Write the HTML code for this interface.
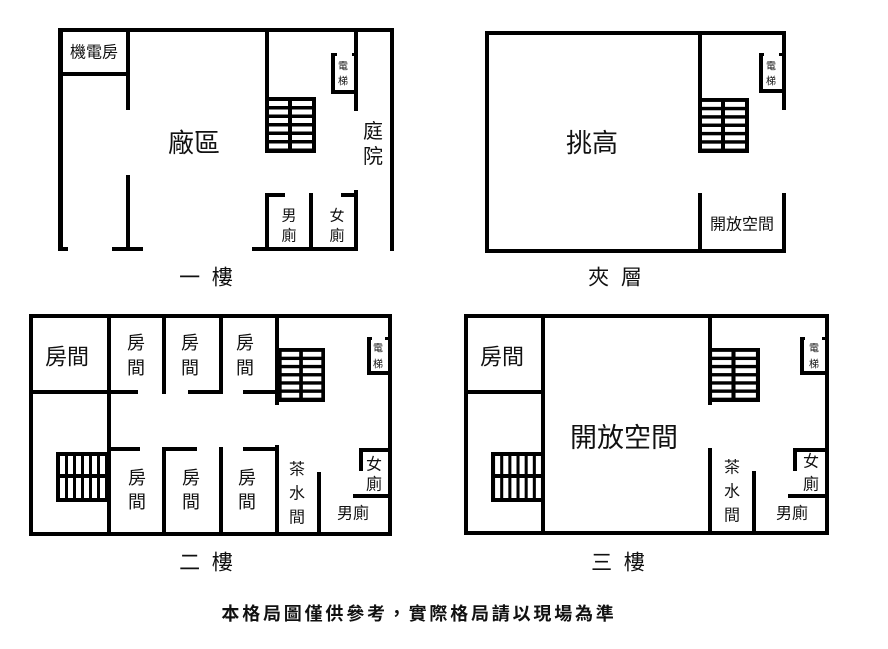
<!DOCTYPE html>
<html><head><meta charset="utf-8"><style>
html,body{margin:0;padding:0;background:#fff;width:888px;height:649px;overflow:hidden}
svg{display:block}
text{font-family:"Liberation Sans","Noto Sans CJK TC",sans-serif;fill:#111;text-anchor:middle;dominant-baseline:central}
</style></head><body>
<svg width="888" height="649" viewBox="0 0 888 649" xmlns="http://www.w3.org/2000/svg">
<defs>
<symbol id="sh" viewBox="0 0 51 56" preserveAspectRatio="none">
<rect x="0" y="0" width="51" height="56" fill="#000"/>
<g fill="#fff">
<rect x="4" y="4" width="19" height="5"/><rect x="27" y="4" width="20" height="5"/>
<rect x="4" y="12.5" width="19" height="5"/><rect x="27" y="12.5" width="20" height="5"/>
<rect x="4" y="21" width="19" height="5"/><rect x="27" y="21" width="20" height="5"/>
<rect x="4" y="29.5" width="19" height="5"/><rect x="27" y="29.5" width="20" height="5"/>
<rect x="4" y="38" width="19" height="5"/><rect x="27" y="38" width="20" height="5"/>
<rect x="4" y="46.5" width="19" height="5"/><rect x="27" y="46.5" width="20" height="5"/>
</g></symbol>
<symbol id="sv" viewBox="0 0 51 50" preserveAspectRatio="none">
<rect x="0" y="0" width="51" height="50" fill="#000"/>
<g fill="#fff">
<rect x="4" y="4" width="5" height="18"/><rect x="12" y="4" width="5" height="18"/><rect x="20" y="4" width="5" height="18"/><rect x="28" y="4" width="5" height="18"/><rect x="36" y="4" width="5" height="18"/><rect x="44" y="4" width="5" height="18"/>
<rect x="4" y="26" width="5" height="20"/><rect x="12" y="26" width="5" height="20"/><rect x="20" y="26" width="5" height="20"/><rect x="28" y="26" width="5" height="20"/><rect x="36" y="26" width="5" height="20"/><rect x="44" y="26" width="5" height="20"/>
</g></symbol>
</defs>

<g fill="#000">
<!-- Plan 1 -->
<rect x="58" y="28" width="336" height="4"/>
<rect x="58" y="28" width="5" height="223"/>
<rect x="390" y="28" width="4" height="223"/>
<rect x="58" y="247" width="10" height="4"/>
<rect x="112" y="247" width="31" height="4"/>
<rect x="252" y="247" width="106" height="4"/>
<rect x="126" y="28" width="4" height="82"/>
<rect x="126" y="175" width="4" height="76"/>
<rect x="58" y="72" width="72" height="4"/>
<rect x="265" y="28" width="4" height="70"/>
<rect x="354" y="28" width="4" height="83"/>
<rect x="354" y="190" width="4" height="61"/>
<rect x="331" y="53" width="4" height="41"/>
<rect x="331" y="90" width="25" height="4"/>
<rect x="331" y="53" width="6" height="3"/>
<rect x="352" y="53" width="4" height="3"/>
<rect x="265" y="193" width="4" height="58"/>
<rect x="265" y="193" width="20" height="4"/>
<rect x="309" y="193" width="4" height="58"/>
<rect x="341" y="193" width="17" height="4"/>

<!-- Plan 2 -->
<rect x="485" y="31" width="301" height="4"/>
<rect x="485" y="31" width="4" height="222"/>
<rect x="485" y="249" width="301" height="4"/>
<rect x="782" y="31" width="4" height="79"/>
<rect x="782" y="193" width="4" height="60"/>
<rect x="698" y="31" width="4" height="68"/>
<rect x="698" y="193" width="4" height="60"/>
<rect x="759" y="53" width="4" height="40"/>
<rect x="759" y="89" width="26" height="4"/>
<rect x="759" y="53" width="5" height="3"/>
<rect x="779" y="53" width="4" height="3"/>

<!-- Plan 3 -->
<rect x="29" y="314" width="363" height="4"/>
<rect x="29" y="314" width="4" height="222"/>
<rect x="29" y="532" width="363" height="4"/>
<rect x="388" y="314" width="4" height="222"/>
<rect x="29" y="390" width="82" height="4"/>
<rect x="107" y="314" width="4" height="222"/>
<rect x="162" y="314" width="4" height="80"/>
<rect x="219" y="314" width="4" height="80"/>
<rect x="275" y="314" width="4" height="91"/>
<rect x="107" y="390" width="31" height="4"/>
<rect x="188" y="390" width="35" height="4"/>
<rect x="243" y="390" width="36" height="4"/>
<rect x="107" y="447" width="33" height="4"/>
<rect x="162" y="447" width="35" height="4"/>
<rect x="243" y="447" width="36" height="4"/>
<rect x="162" y="447" width="4" height="89"/>
<rect x="219" y="447" width="4" height="89"/>
<rect x="275" y="445" width="4" height="91"/>
<rect x="317" y="472" width="4" height="64"/>
<rect x="367" y="337" width="4" height="38"/>
<rect x="367" y="371" width="23" height="4"/>
<rect x="367" y="337" width="5" height="3"/>
<rect x="385" y="337" width="3" height="3"/>
<rect x="359" y="448" width="4" height="23"/>
<rect x="359" y="448" width="31" height="4"/>
<rect x="353" y="494" width="37" height="4"/>

<!-- Plan 4 -->
<rect x="464" y="314" width="365" height="4"/>
<rect x="464" y="314" width="4" height="221"/>
<rect x="464" y="531" width="365" height="4"/>
<rect x="825" y="314" width="4" height="221"/>
<rect x="464" y="390" width="81" height="4"/>
<rect x="541" y="314" width="4" height="221"/>
<rect x="708" y="314" width="4" height="91"/>
<rect x="708" y="448" width="4" height="87"/>
<rect x="752" y="471" width="4" height="64"/>
<rect x="800" y="337" width="4" height="38"/>
<rect x="800" y="371" width="27" height="4"/>
<rect x="800" y="337" width="5" height="3"/>
<rect x="822" y="337" width="3" height="3"/>
<rect x="793" y="448" width="4" height="23"/>
<rect x="793" y="448" width="34" height="4"/>
<rect x="788" y="494" width="39" height="4"/>
</g>

<use href="#sh" x="265" y="97" width="51" height="56"/>
<use href="#sh" x="698" y="98" width="51" height="55"/>
<use href="#sh" x="278" y="348" width="47" height="54"/>
<use href="#sh" x="708" y="348" width="52" height="54"/>
<use href="#sv" x="56" y="452" width="51" height="50"/>
<use href="#sv" x="491" y="452" width="52" height="50"/>

<!-- Texts plan 1 -->
<text x="94" y="53" font-size="16">機電房</text>
<text x="194" y="143" font-size="26">廠區</text>
<text x="343" y="67" font-size="10">電</text>
<text x="343" y="82" font-size="10">梯</text>
<text x="373" y="132" font-size="20">庭</text>
<text x="373" y="157" font-size="20">院</text>
<text x="289" y="216" font-size="15">男</text>
<text x="289" y="236" font-size="15">廁</text>
<text x="337" y="216" font-size="15">女</text>
<text x="337" y="236" font-size="15">廁</text>

<!-- Plan 2 -->
<text x="592" y="143" font-size="26">挑高</text>
<text x="742" y="225" font-size="16">開放空間</text>
<text x="771" y="67" font-size="10">電</text>
<text x="771" y="82" font-size="10">梯</text>

<!-- Plan 3 -->
<text x="67" y="357" font-size="22">房間</text>
<text x="136" y="343" font-size="18">房</text><text x="136" y="368" font-size="18">間</text>
<text x="190" y="343" font-size="18">房</text><text x="190" y="368" font-size="18">間</text>
<text x="245" y="343" font-size="18">房</text><text x="245" y="368" font-size="18">間</text>
<text x="137" y="478" font-size="18">房</text><text x="137" y="502" font-size="18">間</text>
<text x="191" y="478" font-size="18">房</text><text x="191" y="502" font-size="18">間</text>
<text x="247" y="478" font-size="18">房</text><text x="247" y="502" font-size="18">間</text>
<text x="297" y="470" font-size="16">茶</text><text x="297" y="494" font-size="16">水</text><text x="297" y="518" font-size="16">間</text>
<text x="353" y="514" font-size="16">男廁</text>
<text x="374" y="465" font-size="16">女</text><text x="374" y="485" font-size="16">廁</text>
<text x="378" y="349" font-size="10">電</text><text x="378" y="365" font-size="10">梯</text>

<!-- Plan 4 -->
<text x="502" y="357" font-size="22">房間</text>
<text x="624" y="438" font-size="27">開放空間</text>
<text x="732" y="468" font-size="16">茶</text><text x="732" y="492" font-size="16">水</text><text x="732" y="516" font-size="16">間</text>
<text x="792" y="514" font-size="16">男廁</text>
<text x="811" y="462" font-size="16">女</text><text x="811" y="485" font-size="16">廁</text>
<text x="814" y="349" font-size="10">電</text><text x="814" y="365" font-size="10">梯</text>

<!-- Floor labels -->
<text x="206" y="278" font-size="21" xml:space="preserve">一  樓</text>
<text x="615" y="278" font-size="21" xml:space="preserve">夾  層</text>
<text x="206" y="563" font-size="21" xml:space="preserve">二  樓</text>
<text x="618" y="563" font-size="21" xml:space="preserve">三  樓</text>
<text x="419" y="614" font-size="18" font-weight="bold" letter-spacing="2.8">本格局圖僅供參考，實際格局請以現場為準</text>
</svg>
</body></html>
